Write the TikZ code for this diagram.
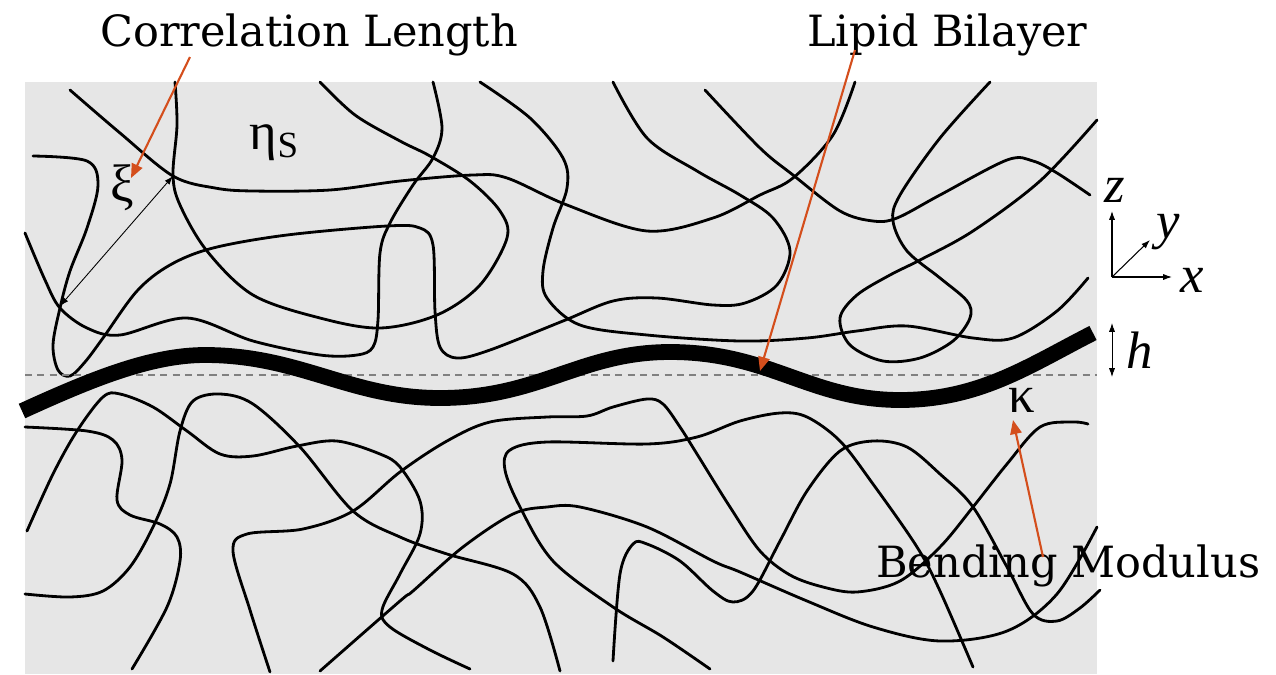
\documentclass[tikz,border=0pt]{standalone}
\usepackage{fontspec}
\setmainfont{DejaVu Serif}
\newfontfamily\symbfont{Liberation Serif}
\usetikzlibrary{arrows.meta}
\definecolor{fluidgray}{RGB}{230,230,230}
\definecolor{pointerorange}{RGB}{212,78,28}
\tikzset{
  polymer/.style={line width=1.6pt, line join=round, line cap=round},
  membrane/.style={line width=9pt},
  midplane/.style={gray, line width=0.8pt, dash pattern=on 4pt off 3pt},
  pointer/.style={pointerorange, line width=1.2pt, -{Triangle[length=8pt,width=6.5pt]}},
  thinarrow/.style={line width=0.5pt, {Latex[length=5pt,width=3.5pt]}-{Latex[length=5pt,width=3.5pt]}},
  axisarrow/.style={line width=0.6pt, -{Latex[length=5pt,width=3.5pt]}},
  bigtext/.style={font=\fontsize{24.5}{28}\selectfont, inner sep=0pt, anchor=base west},
  symb/.style={font=\symbfont\fontsize{30}{34}\selectfont, inner sep=0pt}
}

\begin{document}
\begin{tikzpicture}[x=0.02cm, y=-0.02cm]
    \useasboundingbox (0,0) rectangle (1276,674);
    \fill[fluidgray] (25,82) rectangle (1097,674);

    % Cadenas de polímero (arriba)
    \draw[polymer] plot[smooth, tension=0.55] coordinates {(70,90) (120,133) (173,176) (215,188) (253,191) (330,190) (400,181) (473,175) (507,178) (567,205) (647,231) (713,218) (760,195) (793,178) (833,135) (855,82)};
    \draw[polymer] plot[smooth, tension=0.55] coordinates {(175,82) (177,125) (173,175) (180,205) (207,251) (253,295) (320,318) (380,328) (437,315) (480,285) (507,238) (500,211) (470,181) (430,156) (400,141) (355,115) (320,82)};
    \draw[polymer] plot[smooth, tension=0.55] coordinates {(33,156) (87,161) (98,185) (87,228) (70,271) (60,308) (53,345) (58,370) (70,376) (85,362) (103,338) (137,291) (170,265) (213,248) (287,235) (387,226) (420,228) (433,245) (435,311) (440,347) (457,358) (490,350) (563,321) (613,301) (657,298) (713,305) (745,303) (777,285) (790,251) (773,218) (740,195) (697,171) (647,138) (613,82)};
    \draw[polymer] plot[smooth, tension=0.55] coordinates {(705,90) (760,148) (793,175) (840,211) (873,221) (897,218) (940,195) (1007,160) (1033,161) (1057,173) (1090,195)};
    \draw[polymer] plot[smooth, tension=0.55] coordinates {(990,82) (940,138) (900,195) (893,221) (907,251) (940,278) (967,301) (970,318) (953,341) (920,358) (883,361) (850,345) (840,318) (857,295) (890,275) (920,260) (973,231) (1040,181) (1097,120)};
    \draw[polymer] plot[smooth, tension=0.55] coordinates {(480,82) (530,118) (563,158) (567,188) (553,228) (543,271) (547,298) (580,325) (647,335) (740,341) (807,338) (857,331) (907,326) (973,338) (1013,338) (1057,311) (1088,278)};
    \draw[polymer] plot[smooth, tension=0.55] coordinates {(25,233) (45,280) (60,308) (87,328) (120,335) (187,318) (253,341) (320,355) (357,355) (373,347) (378,320) (380,253) (390,223) (413,185) (433,158) (442,128) (433,82)};

    % Cadenas de polímero (abajo)
    \draw[polymer] plot[smooth, tension=0.55] coordinates {(25,427) (87,431) (113,440) (122,460) (117,500) (130,515) (160,524) (177,537) (180,561) (167,607) (132,669)};
    \draw[polymer] plot[smooth, tension=0.55] coordinates {(27,531) (53,474) (77,431) (103,397) (120,394) (153,407) (187,431) (220,454) (253,456) (297,446) (337,441) (380,454) (400,467) (420,501) (420,534) (400,574) (382,610) (390,627) (430,650) (470,669)};
    \draw[polymer] plot[smooth, tension=0.55] coordinates {(25,594) (70,597) (103,591) (130,567) (153,527) (170,484) (180,431) (193,401) (220,394) (253,404) (300,447) (353,511) (400,537) (447,554) (513,574) (540,607) (560,671)};
    \draw[polymer] plot[smooth, tension=0.55] coordinates {(710,669) (663,637) (613,607) (553,561) (520,507) (505,470) (510,450) (547,442) (647,444) (697,437) (740,421) (780,413) (807,417) (840,441) (873,484) (917,547) (940,591) (973,667)};
    \draw[polymer] plot[smooth, tension=0.55] coordinates {(613,661) (620,574) (633,544) (647,544) (680,561) (713,591) (733,602) (753,591) (780,541) (807,491) (840,451) (873,441) (907,447) (940,474) (973,507) (1007,567) (1033,614) (1057,621) (1080,608) (1100,590)};
    \draw[polymer] plot[smooth, tension=0.55] coordinates {(320,671) (400,601) (413,591) (463,547) (513,514) (547,507) (580,507) (647,527) (713,561) (740,572) (807,601) (873,627) (940,641) (1007,631) (1057,594) (1097,527)};
    \draw[polymer] plot[smooth, tension=0.55] coordinates {(270,672) (250,610) (233,551) (247,534) (303,529) (353,511) (400,472) (447,441) (490,422) (547,417) (587,416) (613,407) (647,399) (663,404) (680,427) (697,454) (730,507) (760,551) (790,575) (823,587) (857,592) (900,581) (940,547) (973,507) (1007,464) (1040,427) (1073,422) (1088,424)};

    % Plano medio y membrana
    \draw[midplane] (25,375) -- (1097,375);
    \draw[membrane] (22,411) .. controls (90,380) and (150,355) .. (205,355)
        .. controls (300,355) and (350,398) .. (440,398)
        .. controls (540,398) and (580,352) .. (670,352)
        .. controls (770,352) and (810,400) .. (900,400)
        .. controls (980,400) and (1030,365) .. (1093,333);

    % Longitud de correlación
    \coordinate (xitop) at (173,176);
    \coordinate (xibot) at (60,306);
    \draw[thinarrow] (xibot) -- (xitop);
    \node (xi) [symb] at (122,188) {ξ};
    \node (eta) [symb] at (274,143) {η\raisebox{-0.3ex}{\fontsize{21}{21}\selectfont S}};
    \node (kappa) [symb] at (1022,400) {κ};

    % Ejes
    \coordinate (orig) at (1112,277);
    \coordinate (zend) at (1112,211);
    \coordinate (xend) at (1172,277);
    \coordinate (yend) at (1150,240);
    \draw[axisarrow] (orig) -- (zend);
    \draw[axisarrow] (orig) -- (xend);
    \draw[axisarrow] (orig) -- (yend);
    \node (zlab) [symb, font=\symbfont\itshape\fontsize{30}{34}\selectfont] at (1115,190) {z};
    \node (ylab) [symb, font=\symbfont\itshape\fontsize{30}{34}\selectfont] at (1168,232) {y};
    \node (xlab) [symb, font=\symbfont\itshape\fontsize{30}{34}\selectfont] at (1192,280) {x};

    % Amplitud h
    \coordinate (htop) at (1112,323);
    \coordinate (hbot) at (1112,377);
    \draw[thinarrow] (htop) -- (hbot);
    \node (hlab) [symb, font=\symbfont\itshape\fontsize{30}{34}\selectfont] at (1140,350) {h};

    % Etiquetas
    \node (corrlabel) [bigtext] at (100,46) {Correlation Length};
    \node (lipidlabel) [bigtext] at (807,46) {Lipid Bilayer};
    \node (bendlabel) [bigtext] at (876,577) {Bending Modulus};

    \coordinate (corrfoot) at (190,57);
    \coordinate (xihead) at (131,178);
    \coordinate (lipidfoot) at (855,50);
    \coordinate (membtip) at (760,371);
    \coordinate (bendfoot) at (1043,557);
    \coordinate (kappahead) at (1013,420);
    \draw[pointer] (corrfoot) -- (xihead);
    \draw[pointer] (lipidfoot) -- (membtip);
    \draw[pointer] (bendfoot) -- (kappahead);
\end{tikzpicture}
\end{document}
